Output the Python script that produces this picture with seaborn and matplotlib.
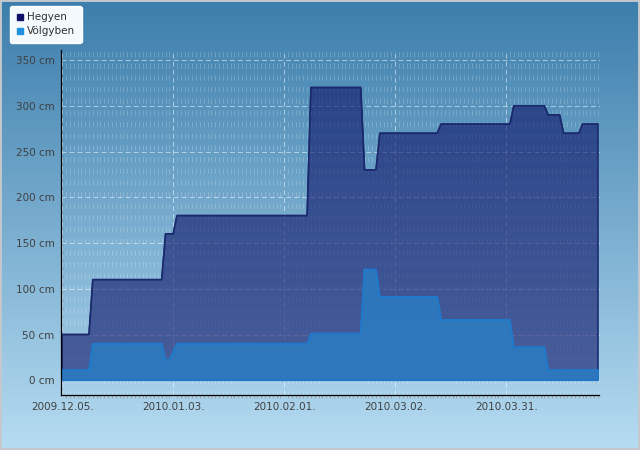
import numpy as np
import pandas as pd
import seaborn as sns
import matplotlib.pyplot as plt
import matplotlib.dates as mdates
from matplotlib.colors import LinearSegmentedColormap
from matplotlib.lines import Line2D
from matplotlib.patches import Rectangle

# snow depth (cm), corner points of the curves
hegyen_dates = ["2009-12-05", "2009-12-12", "2009-12-13", "2009-12-31", "2010-01-01",
                "2010-01-03", "2010-01-04", "2010-02-07", "2010-02-08", "2010-02-21",
                "2010-02-22", "2010-02-25", "2010-02-26", "2010-03-13", "2010-03-14",
                "2010-04-01", "2010-04-02", "2010-04-10", "2010-04-11", "2010-04-14",
                "2010-04-15", "2010-04-19", "2010-04-20", "2010-04-24"]
hegyen_cm = [50, 50, 110, 110, 160,
             160, 180, 180, 320, 320,
             230, 230, 270, 270, 280,
             280, 300, 300, 290, 290,
             270, 270, 280, 280]

volgyben_dates = ["2009-12-05", "2009-12-12", "2009-12-13", "2009-12-31", "2010-01-01",
                  "2010-01-02", "2010-01-04", "2010-02-07", "2010-02-08", "2010-02-21",
                  "2010-02-22", "2010-02-25", "2010-02-26", "2010-03-13", "2010-03-14",
                  "2010-04-01", "2010-04-02", "2010-04-10", "2010-04-11", "2010-04-24"]
volgyben_cm = [11, 11, 40, 40, 22,
               22, 40, 40, 51, 51,
               121, 121, 91, 91, 66,
               66, 36, 36, 11, 11]

tick_dates = ["2009-12-05", "2010-01-03", "2010-02-01", "2010-03-02", "2010-03-31"]
y_ticks = [0, 50, 100, 150, 200, 250, 300, 350]

hegyen = pd.DataFrame({"date": pd.to_datetime(hegyen_dates), "cm": hegyen_cm})
volgyben = pd.DataFrame({"date": pd.to_datetime(volgyben_dates), "cm": volgyben_cm})

sns.set_theme(style="white")
plt.rcParams['font.family'] = ['DejaVu Sans']

fig = plt.figure(figsize=(6.4, 4.5), dpi=100)

# gradient background over the whole figure
bg = fig.add_axes([0, 0, 1, 1], zorder=-10)
grad = np.linspace(0, 1, 256).reshape(-1, 1)
cmap = LinearSegmentedColormap.from_list("bg", ["#3c7eac", "#b6dcf2"])
bg.imshow(grad, aspect="auto", cmap=cmap, extent=[0, 1, 0, 1], origin="upper")
bg.axis("off")

ax = fig.add_axes([60.7 / 640, 1 - 395.2 / 450, (599.5 - 60.7) / 640, (395.2 - 50) / 450])
ax.patch.set_alpha(0)

navy = "#0c1267"
blue = "#2a7ec4"

ax.fill_between(hegyen["date"], 0, hegyen["cm"], color=navy, alpha=0.6, lw=0, zorder=1)
ax.fill_between(hegyen["date"], 0, hegyen["cm"], facecolor="none", edgecolor="#1b2a6e",
                lw=1.1, zorder=1)
sns.lineplot(data=hegyen, x="date", y="cm", ax=ax, color="#1b2a6e", lw=1.2, zorder=2)

ax.fill_between(volgyben["date"], 0, volgyben["cm"], color=blue, alpha=0.82, lw=0, zorder=3)
ax.fill_between(volgyben["date"], 0, volgyben["cm"], facecolor="none", edgecolor="#1f78cc",
                lw=1.1, zorder=3)
sns.lineplot(data=volgyben, x="date", y="cm", ax=ax, color="#1f7acc", lw=1.2, zorder=3)

start = pd.Timestamp(tick_dates[0])
ax.set_xlim(start - pd.Timedelta(hours=9.5), start + pd.Timedelta(days=140.4))
ax.set_ylim(-16.3, 361)

ax.set_xticks(pd.to_datetime(tick_dates))
ax.xaxis.set_major_formatter(mdates.DateFormatter("%Y.%m.%d."))
ax.xaxis.set_minor_locator(mdates.DayLocator())
ax.set_yticks(y_ticks)
ax.set_yticklabels([f"{v} cm" for v in y_ticks])
ax.set_xlabel("")
ax.set_ylabel("")

ax.tick_params(which="major", direction="inout", length=5, width=0.8, color="black",
               labelsize=7.5, labelcolor="#404040")
ax.tick_params(axis="x", which="major", pad=2.5)
ax.tick_params(axis="y", which="major", pad=2)
ax.tick_params(axis="x", which="minor", direction="out", length=2, width=0.8,
               color="#9aa6b0", bottom=True)

# grid sits behind the translucent fills
ax.set_axisbelow(True)
ax.grid(which="major", axis="both", color="white", alpha=0.5, lw=0.75,
        linestyle=(0, (4.8, 2.9)))
ax.grid(which="minor", axis="x", color="white", alpha=0.2, lw=0.75,
        linestyle=(0, (4.8, 6.4)))

for side in ["top", "right"]:
    ax.spines[side].set_visible(False)
for side in ["left", "bottom"]:
    ax.spines[side].set_color("black")
    ax.spines[side].set_linewidth(0.9)
    ax.spines[side].set_zorder(5)

handles = [
    Line2D([], [], marker="s", ls="", color="#10106a", markersize=4.5, label="Hegyen"),
    Line2D([], [], marker="s", ls="", color="#2090e0", markersize=4.5, label="Völgyben"),
]
leg = fig.legend(handles=handles, loc="upper left", bbox_to_anchor=(10 / 640, 1 - 6 / 450),
                 frameon=True, fancybox=True, framealpha=0.98, facecolor="#f8fcff",
                 edgecolor="white", fontsize=7.5, handlelength=0.7, handletextpad=0.35,
                 borderpad=0.6, labelspacing=0.4, borderaxespad=0)
for t in leg.get_texts():
    t.set_color("#303030")

fig.patches.append(Rectangle((0, 0), 1, 1, transform=fig.transFigure, fill=False,
                             edgecolor="#c4c8cc", lw=2.8))

fig.savefig("out.png", dpi=100)
